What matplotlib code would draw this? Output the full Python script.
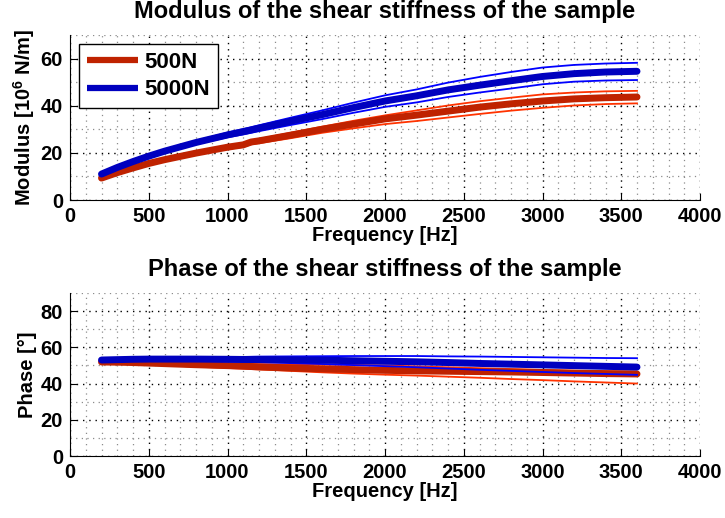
import matplotlib
matplotlib.use("Agg")
import matplotlib.pyplot as plt
from matplotlib.ticker import MultipleLocator

plt.rcParams['font.family'] = ['Liberation Sans', 'DejaVu Sans']
plt.rcParams['font.weight'] = 'bold'
plt.rcParams['mathtext.fontset'] = 'custom'
plt.rcParams['mathtext.rm'] = 'Liberation Sans:bold'
plt.rcParams['mathtext.bf'] = 'Liberation Sans:bold'
plt.rcParams['mathtext.default'] = 'bf'

freq = [200, 300, 400, 500, 600, 800, 1000, 1100, 1150, 1200, 1400, 1600, 1800, 2000,
        2200, 2400, 2600, 2800, 3000, 3200, 3400, 3600]

# modulus [10^6 N/m]
mod_500 = [9.3, 11.6, 13.6, 15.5, 17.1, 19.9, 22.4, 23.4, 24.6, 25.1, 27.5, 30.0, 32.2, 34.4,
           36.0, 37.7, 39.4, 40.8, 42.0, 42.9, 43.4, 43.7]
mod_500_hi = [9.5, 11.8, 13.9, 15.8, 17.5, 20.4, 23.0, 24.1, 25.3, 25.9, 28.5, 31.1, 33.6, 35.9,
              38.0, 40.1, 41.9, 43.4, 44.8, 45.6, 46.1, 46.3]
mod_500_lo = [9.1, 11.4, 13.3, 15.2, 16.7, 19.4, 21.6, 22.5, 23.6, 24.1, 26.2, 28.5, 30.4, 32.2,
              33.5, 35.0, 36.5, 37.9, 39.1, 40.1, 40.7, 41.0]
mod_5000 = [11.0, 13.8, 16.3, 18.6, 20.7, 24.4, 27.6, 29.0, 29.7, 30.5, 33.4, 36.2, 39.2, 42.0,
            44.2, 46.7, 48.7, 50.6, 52.4, 53.6, 54.3, 54.6]
mod_5000_hi = [11.2, 14.0, 16.6, 19.0, 21.2, 25.1, 28.6, 30.1, 30.9, 31.7, 34.9, 38.0, 41.3, 44.4,
               46.9, 49.8, 52.2, 54.3, 56.2, 57.3, 57.9, 58.2]
mod_5000_lo = [10.8, 13.6, 16.0, 18.2, 20.2, 23.7, 26.6, 27.8, 28.5, 29.2, 31.8, 34.3, 37.0, 39.5,
               41.4, 43.7, 45.6, 47.3, 49.1, 50.2, 50.7, 50.9]

# phase [deg]
ph_500 = [51.9, 51.8, 51.6, 51.3, 51.0, 50.4, 49.9, 49.6, 49.4, 49.2, 48.6, 48.1, 47.7, 47.3,
          47.0, 46.8, 46.6, 46.4, 46.1, 45.8, 45.5, 45.3]
ph_500_hi = [52.2, 52.2, 52.1, 51.9, 51.7, 51.3, 51.0, 50.9, 50.8, 50.7, 50.5, 50.4, 50.3, 50.0,
             49.5, 49.0, 48.5, 48.0, 47.5, 47.0, 46.7, 46.5]
ph_500_lo = [51.5, 51.3, 51.0, 50.6, 50.2, 49.3, 48.6, 48.2, 48.0, 47.8, 47.0, 46.2, 45.5, 44.9,
             44.4, 43.8, 43.2, 42.5, 41.9, 41.2, 40.6, 40.0]
ph_5000 = [53.0, 53.2, 53.4, 53.5, 53.5, 53.5, 53.4, 53.3, 53.3, 53.3, 53.1, 52.9, 52.6, 52.3,
           52.0, 51.6, 51.1, 50.7, 50.3, 49.9, 49.5, 49.1]
ph_5000_hi = [53.4, 53.7, 54.0, 54.2, 54.3, 54.4, 54.6, 54.7, 54.8, 54.9, 55.0, 55.1, 55.2, 55.2,
              55.2, 55.0, 54.9, 54.7, 54.5, 54.3, 54.1, 54.0]
ph_5000_lo = [52.6, 52.7, 52.8, 52.8, 52.7, 52.5, 52.2, 52.0, 51.9, 51.8, 51.3, 50.8, 50.2, 49.6,
              49.0, 48.3, 47.6, 47.0, 46.4, 45.8, 45.3, 44.8]

RED, RED_THIN = '#bf2200', '#ff3300'
BLUE, BLUE_THIN = '#0000bf', '#0000ff'
FS = 14.5

fig = plt.figure(figsize=(7.25, 5.18), dpi=100)
ax1 = fig.add_axes([70/725, 1-200/518, 630/725, 165/518])
ax2 = fig.add_axes([70/725, 1-456/518, 630/725, 163/518])


def style(ax, ymax, title, ylabel):
    ax.set_xlim(0, 4000)
    ax.set_ylim(0, ymax)
    ax.xaxis.set_major_locator(MultipleLocator(500))
    ax.xaxis.set_minor_locator(MultipleLocator(100))
    ax.yaxis.set_major_locator(MultipleLocator(20))
    ax.yaxis.set_minor_locator(MultipleLocator(10))
    ax.grid(True, which='major', color='black', linestyle=(0, (1, 3.5)), linewidth=1.0)
    ax.grid(True, which='minor', color='#8c8c8c', linestyle=(0, (1, 3.5)), linewidth=0.9)
    ax.set_axisbelow(True)
    for s in ('top', 'right'):
        ax.spines[s].set_visible(False)
    ax.tick_params(which='major', direction='in', length=5, labelsize=FS, pad=5)
    ax.tick_params(which='minor', direction='in', length=0)
    ax.set_title(title, fontsize=17, fontweight='bold', pad=12)
    ax.set_xlabel('Frequency [Hz]', fontsize=FS, fontweight='bold', labelpad=0)
    ax.set_ylabel(ylabel, fontsize=FS, fontweight='bold', labelpad=3)


for ax, lo5, hi5, m5, lo50, hi50, m50 in (
        (ax1, mod_500_lo, mod_500_hi, mod_500, mod_5000_lo, mod_5000_hi, mod_5000),
        (ax2, ph_500_lo, ph_500_hi, ph_500, ph_5000_lo, ph_5000_hi, ph_5000)):
    ax.plot(freq, lo5, color=RED_THIN, lw=1.3)
    ax.plot(freq, hi5, color=RED_THIN, lw=1.3)
    ax.plot(freq, m5, color=RED, lw=5, solid_capstyle='round',
            solid_joinstyle='round', label='500N')
    ax.plot(freq, lo50, color=BLUE_THIN, lw=1.3)
    ax.plot(freq, hi50, color=BLUE_THIN, lw=1.3)
    ax.plot(freq, m50, color=BLUE, lw=5, solid_capstyle='round',
            solid_joinstyle='round', label='5000N')

style(ax1, 70, 'Modulus of the shear stiffness of the sample', r'Modulus [10$^6$ N/m]')
style(ax2, 90, 'Phase of the shear stiffness of the sample', 'Phase [°]')

leg = ax1.legend(loc='upper left', fontsize=16, fancybox=False, framealpha=1,
                 edgecolor='black', handlelength=2.3, borderaxespad=0.4,
                 handletextpad=0.3, borderpad=0.35, labelspacing=0.3)
leg.get_frame().set_linewidth(1.0)
for h in leg.get_lines():
    h.set_linewidth(4.5)
    h.set_solid_capstyle('butt')

fig.savefig('out.png', dpi=100)
